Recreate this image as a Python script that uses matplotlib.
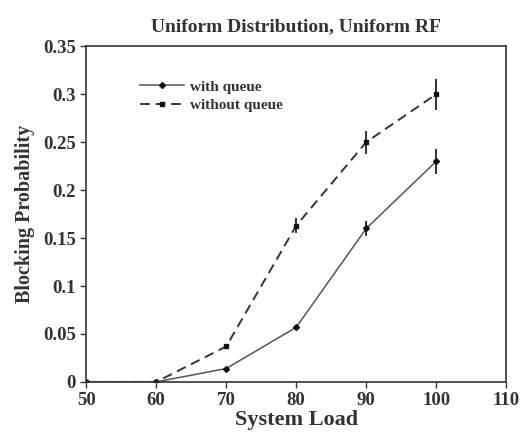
import matplotlib
matplotlib.use("Agg")
import matplotlib.pyplot as plt
from matplotlib.lines import Line2D

load = [50, 60, 70, 80, 90, 100]
with_queue = [0.0, 0.0, 0.014, 0.057, 0.16, 0.23]
with_queue_err = [0, 0, 0, 0, 0.008, 0.013]
without_queue = [0.0, 0.0, 0.037, 0.163, 0.25, 0.30]
without_queue_err = [0, 0, 0, 0.008, 0.012, 0.016]
xticks = [50, 60, 70, 80, 90, 100, 110]
yticks = [0, 0.05, 0.1, 0.15, 0.2, 0.25, 0.3, 0.35]
ytick_labels = ["0", "0.05", "0.1", "0.15", "0.2", "0.25", "0.3", "0.35"]

plt.rcParams['font.family'] = ['Liberation Serif', 'DejaVu Serif']
plt.rcParams['font.weight'] = 'bold'

fig = plt.figure(figsize=(5.29, 4.36), dpi=100)
ax = fig.add_axes([0.163, 0.124, 0.794, 0.770])

s1 = dict(color='#555555', lw=1.1, marker='D', ms=3, mfc='#111111', mec='#111111')
s2 = dict(color='#333333', lw=1.4, ls=(0, (5, 3)), marker='s', ms=3.5,
          mfc='#111111', mec='#111111')
ax.errorbar(load, with_queue, yerr=with_queue_err, ecolor='#222222',
            elinewidth=1.3, capsize=0, **s1)
ax.errorbar(load, without_queue, yerr=without_queue_err, ecolor='#222222',
            elinewidth=1.3, capsize=0, **s2)

ax.set_xlim(50, 110)
ax.set_ylim(0, 0.35)
ax.set_xticks(xticks)
ax.set_yticks(yticks)
ax.set_yticklabels(ytick_labels)
ax.tick_params(direction='out', length=4, width=1, labelsize=13.5, colors='#333333')
ax.tick_params(axis='x', pad=3)
for s in ax.spines.values():
    s.set_color('#333333')
    s.set_linewidth(1.2)

ax.set_xlabel('System Load', fontsize=16, fontweight='bold', color='#333333', labelpad=1)
ax.set_ylabel('Blocking Probability', fontsize=14.5, fontweight='bold', color='#333333', labelpad=6)
ax.set_title('Uniform Distribution, Uniform RF', fontsize=14, fontweight='bold',
             color='#333333', pad=11)

handles = [Line2D([], [], **s1), Line2D([], [], **s2)]
leg = ax.legend(handles, ['with queue', 'without queue'], loc='upper left',
                bbox_to_anchor=(0.095, 0.94), frameon=False, fontsize=11,
                handlelength=2.9, handletextpad=0.35, labelspacing=0.3)
for t in leg.get_texts():
    t.set_color('#333333')

fig.savefig('out.png', dpi=100)
